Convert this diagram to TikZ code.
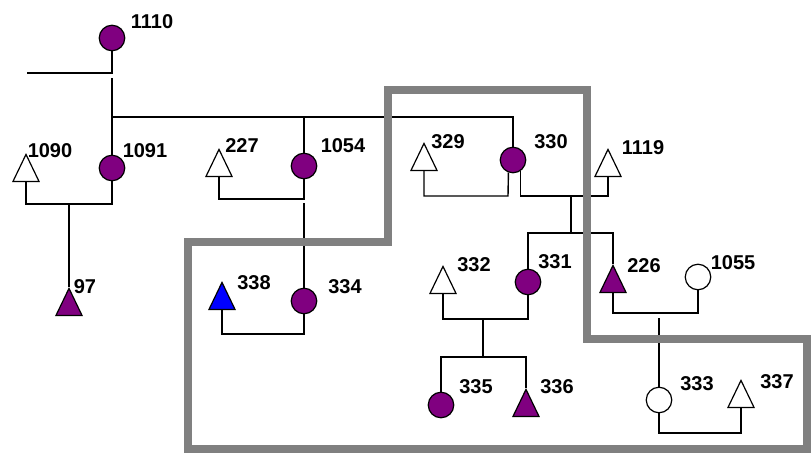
\documentclass[tikz,border=0pt]{standalone}
\usepackage{fontspec}
\setmainfont{Liberation Sans}
\usetikzlibrary{shapes, positioning}
\definecolor{affected}{HTML}{800080}
\definecolor{index}{HTML}{0000FF}
\definecolor{regiongray}{HTML}{808080}
\tikzstyle{link} = [line width=1.4pt]
\tikzstyle{female} = [circle, draw=black, line width=1.2pt, minimum size=25.5, inner sep=0, fill=white]
\tikzstyle{male} = [isosceles triangle, isosceles triangle stretches, shape border rotate=90, draw=black,
                    line width=1.2pt, minimum width=26, minimum height=27, inner sep=0, fill=white, anchor=lower side]
\tikzstyle{ill} = [fill=affected]
\tikzstyle{proband} = [fill=index]
\tikzstyle{tag} = [inner sep=0, font=\fontsize{20}{22}\selectfont\bfseries]
\tikzstyle{region} = [draw=regiongray, line width=8pt, line join=miter]

\begin{document}
\begin{tikzpicture}[x=1pt, y=-1pt]
				\useasboundingbox (0,0) rectangle (811,455);

				% first generation
				\node (F1110) [female, ill] at (112, 38) {};
				\node (L1110) [tag] at (152, 22) {1110};
				\coordinate (U1110) at (27, 73);
				\draw [link] (F1110) |- (U1110);
				\coordinate (D1110) at (112, 78);
				\coordinate (S1110) at (112, 117);
				\coordinate (S1054) at (304, 117);

				% second generation
				\node (M1090) [male] at (26, 182) {};
				\node (L1090) [tag] at (50, 151) {1090};
				\node (F1091) [female, ill] at (112, 168) {};
				\node (L1091) [tag] at (145, 151) {1091};
				\draw [link] (D1110) -- (F1091);

				\node (M227) [male] at (219, 177) {};
				\node (L227) [tag] at (242, 146) {227};
				\node (F1054) [female, ill] at (304, 166) {};
				\node (L1054) [tag] at (343, 146) {1054};
				\draw [link] (S1054) -- (F1054);

				\node (M329) [male] at (424, 171) {};
				\node (L329) [tag] at (448, 142) {329};
				\node (F330) [female, ill] at (513, 160) {};
				\node (L330) [tag] at (551, 142) {330};
				\draw [link] (S1110) -| (F330);

				\node (M1119) [male] at (608, 177) {};
				\node (L1119) [tag] at (643, 148) {1119};

				% third generation
				\node (M97) [male, ill] at (69, 316) {};
				\node (L97) [tag] at (85, 287) {97};
				\coordinate (U1091) at (69, 204);
				\draw [link] (M1090.lower side) |- (U1091) -| (F1091);
				\draw [link] (U1091) -- (M97.apex);

				\node (M338) [male, proband] at (222, 310) {};
				\node (L338) [tag] at (254, 283) {338};
				\node (F334) [female, ill] at (304, 301) {};
				\node (L334) [tag] at (345, 287) {334};
				\coordinate (U227) at (304, 199);
				\draw [link] (M227.lower side) |- (U227) -- (F1054);
				\coordinate (D227) at (304, 203);
				\draw [link] (D227) -- (F334);
				\coordinate (U338) at (304, 334);
				\draw [link] (M338.lower side) |- (U338) -- (F334);

				\node (M332) [male] at (443, 294) {};
				\node (L332) [tag] at (474, 265) {332};
				\node (F331) [female, ill] at (528, 282) {};
				\node (L331) [tag] at (555, 262) {331};
				\node (M226) [male, ill] at (613, 293) {};
				\node (L226) [tag] at (644, 266) {226};
				\node (F1055) [female] at (698, 277) {};
				\node (L1055) [tag] at (733, 263) {1055};

				\coordinate (U329) at (508, 196);
				\draw [link] (M329.lower side) |- (U329) -- (F330.-110);
				\coordinate (U1119) at (571, 196);
				\draw [link] (F330.-55) |- (U1119) -| (M1119.lower side);
				\coordinate (S330) at (571, 233);
				\draw [link] (U1119) -- (S330);
				\draw [link] (F331) |- (S330) -| (M226.apex);

				% fourth generation
				\node (F335) [female, ill] at (441, 405) {};
				\node (L335) [tag] at (476, 387) {335};
				\node (M336) [male, ill] at (526, 417) {};
				\node (L336) [tag] at (557, 387) {336};
				\coordinate (U332) at (483, 319);
				\draw [link] (M332.lower side) |- (U332) -| (F331);
				\coordinate (S332) at (483, 357);
				\draw [link] (U332) -- (S332);
				\draw [link] (F335) |- (S332) -| (M336.apex);

				\node (F333) [female] at (659, 400) {};
				\node (L333) [tag] at (697, 384) {333};
				\node (M337) [male] at (741, 408) {};
				\node (L337) [tag] at (777, 382) {337};
				\coordinate (U226) at (659, 313);
				\draw [link] (M226.lower side) |- (U226) -| (F1055);
				\coordinate (D226) at (659, 318);
				\draw [link] (D226) -- (F333);
				\coordinate (U333) at (741, 433);
				\draw [link] (F333) |- (U333) -- (M337.lower side);

				% linked region
				\draw [region] (188, 242) -- (388, 242) -- (388, 90) -- (587, 90) -- (587, 339)
					-- (807, 339) -- (807, 449) -- (188, 449) -- cycle;
			\end{tikzpicture}
\end{document}
